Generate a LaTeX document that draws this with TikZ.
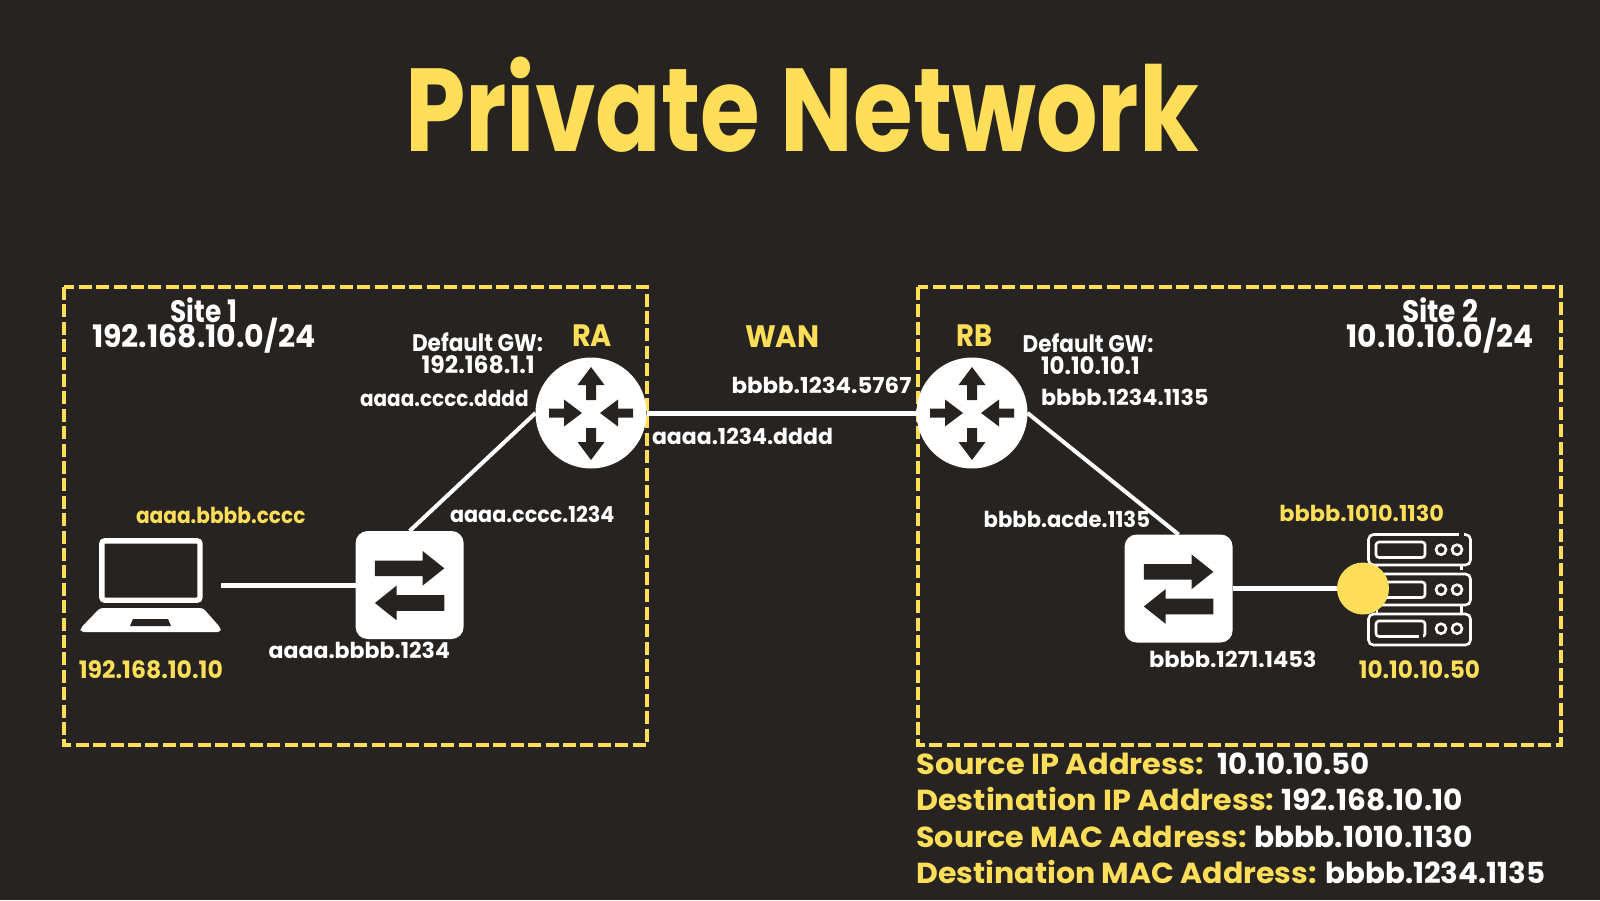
\documentclass[tikz,border=0pt]{standalone}
\usepackage{fontspec}
\setmainfont{Poppins}
\definecolor{bgc}{HTML}{262320}
\definecolor{ylw}{HTML}{FFDE59}
\newlength{\fitlen}
% name, colour, x1, x2, baseline, font size (pt), text
\newcommand{\fittext}[7]{%
  \pgfmathsetlength{\fitlen}{(#4-#3)*0.5}%
  \node[lbl,text=#2] (#1) at (#3,#5) {\resizebox{\fitlen}{\height}{\fontsize{#6}{#6}\selectfont\bfseries #7}};%
}
\newcommand{\routerarrows}[1]{%
  \begin{scope}[shift={(#1.center)}]
    \fill[bgc] (0,-46) -- (13.5,-28) -- (5,-28) -- (5,-13) -- (-5,-13) -- (-5,-28) -- (-13.5,-28) -- cycle;
    \fill[bgc] (0,47) -- (13.5,29) -- (5,29) -- (5,15) -- (-5,15) -- (-5,29) -- (-13.5,29) -- cycle;
    \fill[bgc] (-9,0) -- (-27,13.5) -- (-27,4.5) -- (-42,4.5) -- (-42,-4.5) -- (-27,-4.5) -- (-27,-13.5) -- cycle;
    \fill[bgc] (9,0) -- (27,13.5) -- (27,4.5) -- (42,4.5) -- (42,-4.5) -- (27,-4.5) -- (27,-13.5) -- cycle;
  \end{scope}}
\newcommand{\switcharrows}[1]{%
  \begin{scope}[shift={(#1.center)}]
    \fill[bgc] (-34.7,-24.4) -- (13,-24.4) -- (13,-34) -- (34.7,-16.7) -- (13,0.6) -- (13,-9) -- (-34.7,-9) -- cycle;
    \fill[bgc] (34.7,10.2) -- (-13,10.2) -- (-13,0.6) -- (-34.7,18) -- (-13,35.3) -- (-13,25.8) -- (34.7,25.8) -- cycle;
  \end{scope}}
\tikzset{
  lbl/.style={anchor=base west,inner sep=0pt,outer sep=0pt},
  sitebox/.style={draw=ylw,line width=2pt,dash pattern=on 6.5pt off 2.2pt},
  wire/.style={draw=white,line width=2.5pt},
  thinwire/.style={draw=white,line width=2pt},
  routernode/.style={circle,fill=white,minimum size=55.5pt,inner sep=0pt,outer sep=0pt},
  switchnode/.style={rectangle,fill=white,rounded corners=6pt,minimum width=54pt,minimum height=54pt,inner sep=0pt,outer sep=0pt},
  srv/.style={draw=white,line width=1.3pt,rounded corners=2.5pt},
}
\begin{document}
\begin{tikzpicture}[x=0.5pt,y=-0.5pt]
\fill[bgc] (0,0) rectangle (1600,900);
\useasboundingbox (0,0) rectangle (1600,900);

\draw[sitebox] (64,287) rectangle (646.5,745);
\draw[sitebox] (917.5,287) rectangle (1561,745);

% devices
\node[routernode] (ra) at (591,413) {};
\node[routernode] (rb) at (972,413) {};
\node[switchnode] (swa) at (409.6,585) {};
\node[switchnode] (swb) at (1178.6,588.5) {};
\coordinate (lapend) at (221,585);

% connectors
\draw[wire] (ra.east) -- (rb.west);
\draw[thinwire] (swa.north) -- (ra.west);
\draw[thinwire] (rb.east) -- (swb.north);
\draw[wire] (lapend) -- (swa.west);

\routerarrows{ra}
\routerarrows{rb}
\switcharrows{swa}
\switcharrows{swb}

% laptop
\draw[white,line width=2.7pt,rounded corners=1.5pt] (101.8,540.8) rectangle (200,600.2);
\fill[white,rounded corners=1.5pt] (100,608) -- (203,608) -- (220.7,628) -- (220.7,632) -- (80.7,632) -- (80.7,628) -- cycle;
\fill[bgc] (133,619) -- (168,619) -- (171,626) -- (130,626) -- cycle;

% server
\draw[srv] (1368.5,534.5) rectangle (1470.5,565);
\draw[srv] (1368.5,574) rectangle (1470.5,605);
\draw[srv] (1368.5,614) rectangle (1470.5,645);
\draw[white,line width=1.3pt] (1461.7,565) -- (1461.7,570);
\draw[white,line width=1.3pt] (1461.7,605) -- (1461.7,614);
\draw[white,line width=1.3pt] (1377,565) -- (1377,574);
\draw[white,line width=1.3pt] (1377,605) -- (1377,614);
\fill[bgc] (1459,532) rectangle (1464,537);
\foreach \yy in {542,582,621}{
  \draw[srv,rounded corners=1.5pt] (1376,\yy) rectangle (1425,\yy+15.5);
  \draw[white,line width=1.3pt] (1441,\yy+7.7) circle (5);
  \draw[white,line width=1.3pt] (1457,\yy+7.7) circle (5);
}
\fill[bgc] (1419,634) rectangle (1423,638);
\node[circle,fill=ylw,minimum size=26pt,inner sep=0pt,outer sep=0pt] (port) at (1363,588.5) {};
\draw[wire] (swb.east) -- (port.west);

% text
\fittext{title}{ylw}{405}{1199}{151}{59}{Private Network}
\fittext{sa}{white}{170.6}{237}{322}{15.5}{Site 1}
\fittext{sb}{white}{92}{315.5}{347.5}{15.5}{192.168.10.0/24}
\fittext{gwa}{white}{412}{543}{351}{12}{Default GW:}
\fittext{gwb}{white}{421.6}{534.7}{373}{12}{192.168.1.1}
\fittext{maca}{white}{360}{528.6}{406}{11}{aaaa.cccc.dddd}
\fittext{rat}{ylw}{572}{612}{346.7}{15.5}{RA}
\fittext{macb}{ylw}{136}{305.5}{523}{11}{aaaa.bbbb.cccc}
\fittext{macc}{white}{450}{614.5}{522}{11}{aaaa.cccc.1234}
\fittext{macd}{white}{268.6}{450}{658}{11}{aaaa.bbbb.1234}
\fittext{ipa}{ylw}{78.8}{222.9}{678.5}{12}{192.168.10.10}
\fittext{mace}{white}{652}{833}{444}{11}{aaaa.1234.dddd}
\fittext{macf}{white}{731.6}{911.5}{393}{11}{bbbb.1234.5767}
\fittext{wan}{ylw}{745}{819.4}{347.5}{15.5}{WAN}
\fittext{rbt}{ylw}{956.4}{992.4}{346.7}{15.5}{RB}
\fittext{gwc}{white}{1022.7}{1153.5}{352}{12}{Default GW:}
\fittext{gwd}{white}{1041}{1139.8}{374}{12}{10.10.10.1}
\fittext{macg}{white}{1041}{1208.5}{405.7}{11}{bbbb.1234.1135}
\fittext{sc}{white}{1402}{1478}{322}{15.5}{Site 2}
\fittext{sd}{white}{1346.7}{1534}{347.5}{15.5}{10.10.10.0/24}
\fittext{mach}{white}{983.7}{1150}{527.5}{11}{bbbb.acde.1135}
\fittext{maci}{ylw}{1279.4}{1444}{521.7}{11}{bbbb.1010.1130}
\fittext{macj}{white}{1149}{1316.5}{667}{11}{bbbb.1271.1453}
\fittext{ipb}{ylw}{1358.8}{1480}{678.5}{12}{10.10.10.50}
\fittext{la}{ylw}{916.3}{1204}{774}{14.5}{Source IP Address:}
\fittext{lb}{white}{1217}{1370}{774}{14.5}{10.10.10.50}
\fittext{lc}{ylw}{916.3}{1274.5}{810}{14.5}{Destination IP Address:}
\fittext{ld}{white}{1281.6}{1463}{810}{14.5}{192.168.10.10}
\fittext{le}{ylw}{916.3}{1247}{847}{14.5}{Source MAC Address:}
\fittext{lf}{white}{1254}{1472.5}{847}{14.5}{bbbb.1010.1130}
\fittext{lg}{ylw}{916.3}{1317}{883.7}{14.5}{Destination MAC Address:}
\fittext{lh}{white}{1325.5}{1545.5}{883.7}{14.5}{bbbb.1234.1135}
\end{tikzpicture}
\end{document}
